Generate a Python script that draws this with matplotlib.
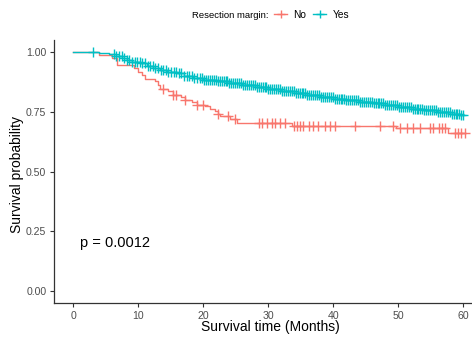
import numpy as np
import matplotlib
matplotlib.use("Agg")
import matplotlib.pyplot as plt
from matplotlib.lines import Line2D

plt.rcParams["font.family"] = ["Liberation Sans", "DejaVu Sans"]

# Kaplan-Meier step curves: (time in months, survival)
no_time = [0, 4.0, 6.0, 6.7, 9.3, 10.0, 10.5, 11.0, 12.6, 13.0, 13.3, 14.5,
           15.3, 16.5, 17.2, 18.2, 19.0, 20.3, 21.0, 21.8, 22.3, 22.6, 24.1,
           25.1, 33.6, 49.7, 57.6]
no_surv = [1.0, 0.987, 0.975, 0.947, 0.933, 0.918, 0.904, 0.887, 0.877, 0.86,
           0.846, 0.835, 0.821, 0.81, 0.80, 0.79, 0.78, 0.772, 0.762, 0.751,
           0.741, 0.731, 0.72, 0.703, 0.692, 0.680, 0.662]
no_censor = [13.8, 15.3, 15.8, 17.2, 19.0, 20.0, 22.3, 23.8, 24.8, 28.5, 29.0,
             29.8, 30.5, 31.0, 31.8, 32.6, 33.9, 34.4, 34.9, 35.4, 36.2, 36.9,
             37.7, 38.7, 39.5, 40.3, 43.3, 47.2, 49.2, 50.3, 51.3, 52.3, 53.3,
             54.9, 55.4, 56.2, 56.7, 57.2, 58.7, 59.2, 59.7, 60.2]

yes_time = [0, 4.0, 5.5, 6.5, 7.5, 8.2, 9.0, 10.3, 11.3, 12.3, 13.3, 14.4,
            15.9, 17.0, 18.4, 20.0, 22.0, 24.0, 26.0, 28.0, 30.0, 32.0, 34.0,
            36.0, 38.0, 40.0, 42.0, 44.0, 46.0, 48.0, 50.0, 52.0, 54.0, 56.0,
            58.0, 59.5]
yes_surv = [1.0, 0.997, 0.99, 0.985, 0.975, 0.967, 0.960, 0.953, 0.943, 0.932,
            0.925, 0.918, 0.911, 0.90, 0.89, 0.883, 0.877, 0.869, 0.861, 0.853,
            0.845, 0.837, 0.829, 0.821, 0.812, 0.805, 0.799, 0.792, 0.785,
            0.778, 0.770, 0.763, 0.756, 0.749, 0.742, 0.735]
yes_censor = [3.0, 6.2, 6.6, 7.0, 7.4, 7.8, 8.2, 8.6, 9.0, 9.4, 9.8, 10.2,
              10.6, 11.0, 11.4, 11.8, 12.2, 12.6, 13.0, 13.4, 13.8, 14.2, 14.6,
              15.0, 15.4, 15.8, 16.2, 16.6, 17.0, 17.4, 17.8, 18.2, 18.6, 19.0,
              19.4, 19.8, 20.1, 20.4, 20.7, 21.0, 21.3, 21.6, 21.9, 22.2, 22.5,
              22.8, 23.1, 23.4, 23.7, 24.0, 24.3, 24.6, 24.9, 25.2, 25.5, 25.8,
              26.1, 26.4, 26.7, 27.0, 27.3, 27.6, 27.9, 28.2, 28.5, 28.8, 29.1,
              29.4, 29.7, 30.0, 30.3, 30.6, 30.9, 31.2, 31.5, 31.8, 32.1, 32.4,
              32.7, 33.0, 33.3, 33.6, 33.9, 34.2, 34.5, 34.8, 35.1, 35.4, 35.7,
              36.0, 36.3, 36.6, 36.9, 37.2, 37.5, 37.8, 38.1, 38.4, 38.7, 39.0,
              39.3, 39.6, 39.9, 40.2, 40.5, 40.8, 41.1, 41.4, 41.7, 42.0, 42.3,
              42.6, 42.9, 43.2, 43.5, 43.8, 44.1, 44.4, 44.7, 45.0, 45.3, 45.6,
              45.9, 46.2, 46.5, 46.8, 47.1, 47.4, 47.7, 48.0, 48.3, 48.6, 48.9,
              49.2, 49.5, 49.8, 50.1, 50.4, 50.7, 51.0, 51.3, 51.6, 51.9, 52.2,
              52.5, 52.8, 53.1, 53.4, 53.7, 54.0, 54.3, 54.6, 54.9, 55.2, 55.5,
              55.8, 56.1, 56.4, 56.7, 57.0, 57.3, 57.6, 57.9, 58.2, 58.5, 58.8,
              59.1, 59.4, 59.7, 60.0]

groups = ["No", "Yes"]
colors = {"No": "#F8766D", "Yes": "#00BFC4"}
curves = {"No": (no_time, no_surv, no_censor),
          "Yes": (yes_time, yes_surv, yes_censor)}
x_ticks = [0, 10, 20, 30, 40, 50, 60]
y_ticks = [0.0, 0.25, 0.50, 0.75, 1.00]
p_label = "p = 0.0012"

fig = plt.figure(figsize=(4.72, 3.4), dpi=100)
ax = fig.add_axes([54 / 472, 1 - 303 / 340, (482.8 - 54) / 472, 263 / 340])

for g in groups:
    t, s, c = curves[g]
    t = list(t) + [max(c)]
    s = list(s) + [s[-1]]
    ax.step(t, s, where="post", color=colors[g], lw=1.0)
    idx = np.searchsorted(np.array(curves[g][0]), c, side="right") - 1
    cy = np.array(curves[g][1])[idx]
    ax.plot(c, cy, ls="none", marker="+", ms=6.5, mew=1.0, color=colors[g])

ax.set_xlim(-3, 63)
ax.set_ylim(-0.05, 1.05)
ax.set_xticks(x_ticks)
ax.set_yticks(y_ticks)
ax.set_yticklabels([f"{v:.2f}" for v in y_ticks])
ax.tick_params(colors="#333333", labelcolor="#4D4D4D", labelsize=7.6,
               length=3, width=0.8, pad=2.5)
for side in ("top", "right"):
    ax.spines[side].set_visible(False)
for side in ("left", "bottom"):
    ax.spines[side].set_color("#333333")
    ax.spines[side].set_linewidth(0.9)
ax.set_xlabel("Survival time (Months)", fontsize=10)
ax.set_ylabel("Survival probability", fontsize=10)
ax.xaxis.set_label_coords(0.504, -0.066)
ax.yaxis.set_label_coords(-0.069, 0.487)
ax.text(1, 0.2, p_label, fontsize=10.5, va="center", ha="left")

fig.text(192 / 472, 1 - 15 / 340, "Resection margin:", fontsize=6.8,
         va="center", ha="left")
handles = [Line2D([], [], color=colors[g], marker="+", ms=6, mew=1.0, lw=1.0)
           for g in groups]
fig.legend(handles, groups, loc="center left", ncol=2, frameon=False,
           bbox_to_anchor=(274 / 472, 1 - 15 / 340), fontsize=7.3,
           handlelength=1.3, handletextpad=0.6, columnspacing=0.7,
           borderaxespad=0, borderpad=0)

fig.savefig("out.png", dpi=100)
